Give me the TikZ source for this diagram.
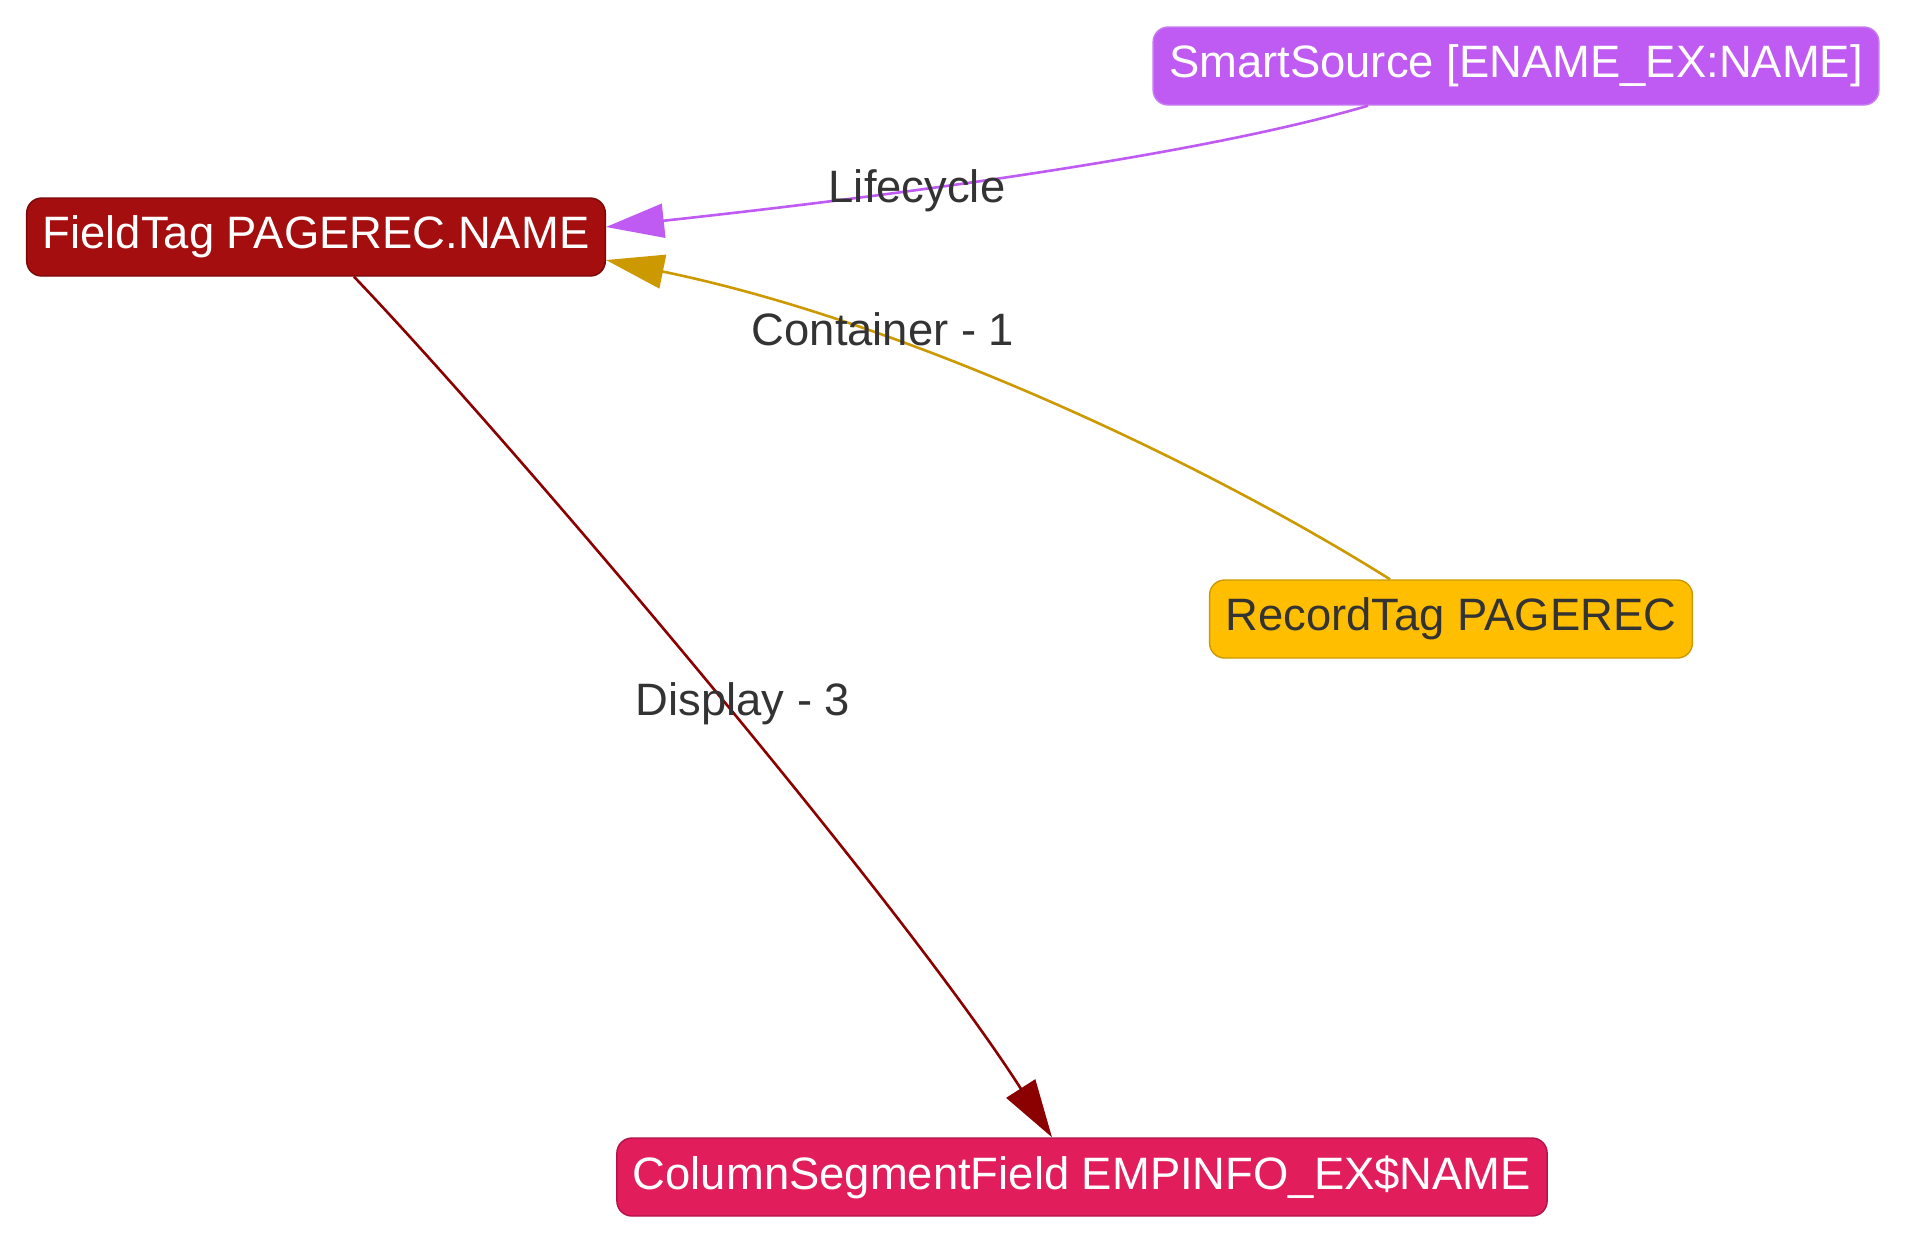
\documentclass[tikz,border=0pt]{standalone}
\usepackage{fontspec}
\setmainfont{Liberation Sans}
\usetikzlibrary{arrows.meta,calc}
\definecolor{fieldred}{HTML}{A50E0E}
\definecolor{fieldline}{HTML}{7A0808}
\definecolor{smartviolet}{HTML}{BF5AF2}
\definecolor{smartline}{HTML}{C77DF0}
\definecolor{recordamber}{HTML}{FFBF00}
\definecolor{recordline}{HTML}{CC9900}
\definecolor{columncrimson}{HTML}{E21D5C}
\definecolor{columnline}{HTML}{B3124A}
\definecolor{displayred}{HTML}{8B0000}
\definecolor{labelgray}{HTML}{333333}

\begin{document}
\begin{tikzpicture}[x=0.5pt,y=-0.5pt,
    tagbox/.style={rectangle, rounded corners=7.5pt, draw, line width=0.7pt,
      font=\fontsize{22.7}{26}\selectfont, inner xsep=8pt, inner ysep=0pt,
      minimum height=39pt, text=white},
    rel/.style={line width=1.3pt, -{Triangle[length=29pt,width=17pt]}},
    rellabel/.style={font=\fontsize{22.7}{26}\selectfont, text=labelgray, inner sep=0pt}]
    % pixel coordinates of the 1912x1250 page, y running down
    \useasboundingbox (0,0) rectangle (1912,1250);
    \node[tagbox, fill=fieldred, draw=fieldline] (field) at (316,237) {FieldTag PAGEREC.NAME};
    \node[tagbox, fill=smartviolet, draw=smartline] (smart) at (1516,66) {SmartSource [ENAME\_EX:NAME]};
    \node[tagbox, fill=recordamber, draw=recordline, text=labelgray] (record) at (1451,619) {RecordTag PAGEREC};
    \node[tagbox, fill=columncrimson, draw=columnline] (column) at (1082,1177) {ColumnSegmentField EMPINFO\_EX\$NAME};

    \draw[rel, smartviolet] ($(smart.south)+(-148,0)$) .. controls (1200,155) and (900,195) .. ($(field.east)+(0,-10)$);
    \draw[rel, recordline] ($(record.north)+(-61,0)$) .. controls (1200,460) and (900,320) .. ($(field.east)+(0,23)$);
    \draw[rel, displayred] ($(field.south)+(38,0)$) .. controls (510,440) and (900,900) .. ($(column.north)+(-30,0)$);

    \node[rellabel] (lifecycle) at (917,191) {Lifecycle};
    \node[rellabel] (container) at (883,329) {Container - 1};
    \node[rellabel] (display) at (743,704) {Display - 3};
  \end{tikzpicture}
\end{document}
